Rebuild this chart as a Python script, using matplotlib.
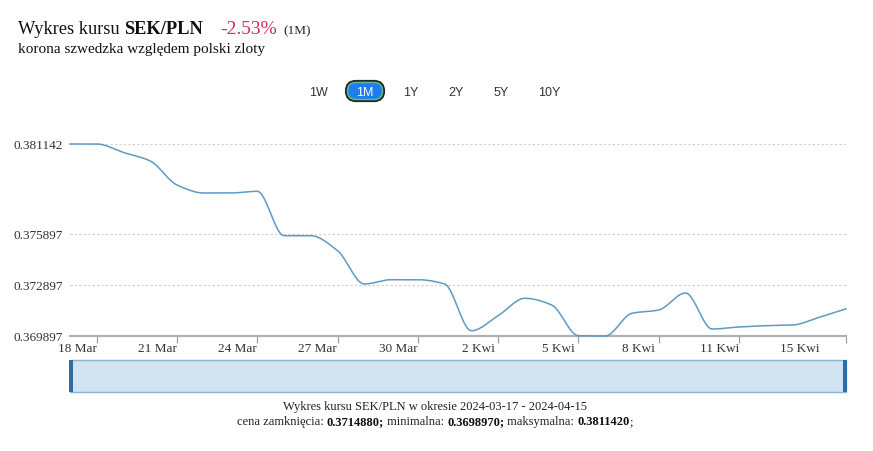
"""SEK/PLN one-month rate chart."""

import matplotlib

matplotlib.use("Agg")
import matplotlib.pyplot as plt
import numpy as np
from matplotlib.patches import FancyBboxPatch, Rectangle

# days since 2024-03-17 and daily rate
days = list(range(30))
rates = [
    0.381142, 0.381142, 0.380645, 0.380147, 0.378741, 0.378273, 0.378273, 0.378372,
    0.375772, 0.375772, 0.374893, 0.372943, 0.373194, 0.373194, 0.372943, 0.370207,
    0.371086, 0.372105, 0.371713, 0.369915, 0.369897, 0.371227, 0.371420, 0.372415,
    0.370307, 0.370424, 0.370500, 0.370541, 0.370992, 0.371488,
]
y_ticks = [0.369897, 0.372897, 0.375897, 0.381142]
x_tick_days = [1, 4, 7, 10, 13, 16, 19, 22, 25, 29]
x_label_days = [1, 4, 7, 10, 13, 16, 19, 22, 25, 28]
x_labels = ["18 Mar", "21 Mar", "24 Mar", "27 Mar", "30 Mar",
            "2 Kwi", "5 Kwi", "8 Kwi", "11 Kwi", "15 Kwi"]
buttons = ["1W", "1M", "1Y", "2Y", "5Y", "10Y"]
button_x = [318, 365, 411, 456, 501, 549]

SERIF = "Liberation Serif"
SANS = "Liberation Sans"
W, H = 873, 452


def spline(x, y, n=20):
    # monotone cubic hermite (Fritsch-Carlson), smooth without overshoot
    x = np.asarray(x, float)
    y = np.asarray(y, float)
    d = np.diff(y) / np.diff(x)
    m = np.zeros_like(y)
    m[0], m[-1] = d[0], d[-1]
    for i in range(1, len(y) - 1):
        if d[i - 1] * d[i] > 0:
            m[i] = 2 / (1 / d[i - 1] + 1 / d[i])
    xs, ys = [], []
    for i in range(len(x) - 1):
        h = x[i + 1] - x[i]
        t = np.linspace(0, 1, n, endpoint=False)
        h00 = 2 * t**3 - 3 * t**2 + 1
        h10 = t**3 - 2 * t**2 + t
        h01 = -2 * t**3 + 3 * t**2
        h11 = t**3 - t**2
        xs.append(x[i] + t * h)
        ys.append(h00 * y[i] + h10 * h * m[i] + h01 * y[i + 1] + h11 * h * m[i + 1])
    xs.append([x[-1]])
    ys.append([y[-1]])
    return np.concatenate(xs), np.concatenate(ys)


fig = plt.figure(figsize=(W / 100, H / 100), dpi=100)
fig.patch.set_facecolor("white")

# plot area: x 70..846 px, y 130..337 px
px_per_unit = 192 / (0.381142 - 0.369897)
ax = fig.add_axes([70 / W, 1 - 337 / H, 776 / W, 207 / H])
ax.set_xlim(0, 29)
ax.set_ylim(0.369897, 0.381142 + 15 / px_per_unit)

sx, sy = spline(days, rates)
ax.plot(sx, sy, color="#5b9bc4", linewidth=1.1, clip_on=False, zorder=3)

for v in y_ticks[1:]:
    ax.axhline(v, color="#cfcfcf", linewidth=0.8, linestyle=(0, (2, 2)), zorder=1)

for s in ["top", "right", "left"]:
    ax.spines[s].set_visible(False)
ax.spines["bottom"].set_color("#b0b0b0")
ax.spines["bottom"].set_linewidth(1.6)

ax.set_yticks(y_ticks)
ax.set_yticklabels([f"{v:.6f}" for v in y_ticks], fontfamily=SERIF, fontsize=9.5, color="#333333")
ax.tick_params(axis="y", length=0, pad=5)

ax.set_xticks(x_tick_days, minor=True)
ax.tick_params(axis="x", which="minor", length=5, width=0.8, color="#999999")
ax.set_xticks([d - 0.74 for d in x_label_days])
ax.set_xticklabels(x_labels, fontfamily=SERIF, fontsize=9.5, color="#333333")
ax.tick_params(axis="x", which="major", length=0, pad=4)

# navigator
nav = fig.add_axes([0, 0, 1, 1], facecolor="none")
nav.set_xlim(0, W)
nav.set_ylim(H, 0)
nav.axis("off")
nav.add_patch(Rectangle((70, 361), 776, 32, facecolor="#d2e4f1", edgecolor="#8cb6d6", linewidth=1))
nav.add_patch(Rectangle((69, 361), 4, 32, facecolor="#2b6ea6", edgecolor="none"))
nav.add_patch(Rectangle((843, 361), 4, 32, facecolor="#2b6ea6", edgecolor="none"))

# range buttons
for label, bx in zip(buttons, button_x):
    if label == "1M":
        nav.add_patch(FancyBboxPatch((346, 82), 38, 20, boxstyle="round,pad=0,rounding_size=10",
                                     facecolor="#1c7cf0", edgecolor="#1d2d24", linewidth=1.6))
        nav.add_patch(FancyBboxPatch((347.5, 83.5), 35, 17, boxstyle="round,pad=0,rounding_size=8.5",
                                     facecolor="none", edgecolor="#5cb896", linewidth=1.1))
        nav.text(bx, 92.5, label, ha="center", va="center", fontfamily=SANS, fontsize=9, color="white")
    else:
        nav.text(bx, 92.5, label, ha="center", va="center", fontfamily=SANS, fontsize=9, color="#333333")

# titles
renderer = fig.canvas.get_renderer()


def run(x, y, parts, ha="left"):
    # parts: (text, weight, color, size), laid out left to right
    items = []
    total = 0
    for txt, weight, color, sz in parts:
        t = nav.text(0, y, txt, fontfamily=SERIF, fontsize=sz, fontweight=weight,
                     color=color, va="baseline")
        w = t.get_window_extent(renderer).width
        items.append((t, w))
        total += w
    start = x - total / 2 if ha == "center" else x
    for t, w in items:
        t.set_x(start)
        start += w


run(18, 34, [("Wykres kursu ", "normal", "#111111", 13.2),
             ("SEK/PLN", "bold", "#111111", 13.2)])
run(220, 34, [("-2.53%", "normal", "#d62a5f", 14)])
run(283, 34, [("(1M)", "normal", "#222222", 9.5)])
nav.text(18, 53, "korona szwedzka względem polski zloty", fontfamily=SERIF, fontsize=11,
         color="#111111", va="baseline")

run(435, 410, [("Wykres kursu SEK/PLN w okresie 2024-03-17 - 2024-04-15", "normal", "#222222", 9)],
    ha="center")
run(435, 425, [("cena zamknięcia: ", "normal", "#222222", 9),
               ("0.3714880;", "bold", "#111111", 9),
               (" minimalna: ", "normal", "#222222", 9),
               ("0.3698970;", "bold", "#111111", 9),
               (" maksymalna: ", "normal", "#222222", 9),
               ("0.3811420", "bold", "#111111", 9),
               (";", "normal", "#222222", 9)], ha="center")

fig.savefig("out.png", dpi=100, facecolor="white")
